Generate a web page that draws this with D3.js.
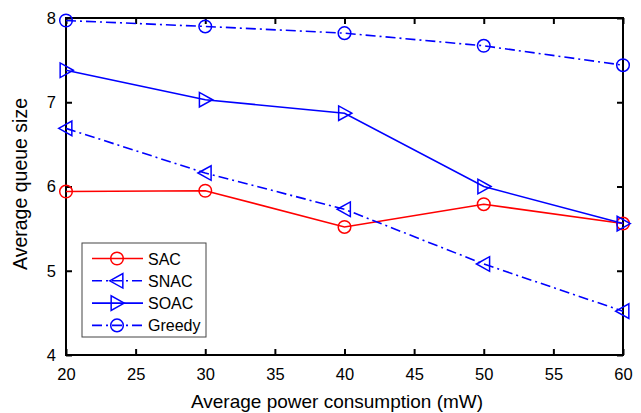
<!DOCTYPE html>
<html>
<head>
<meta charset="utf-8">
<script src="https://cdn.jsdelivr.net/npm/d3@7"></script>
<style>
  body { margin: 0; background: #fff; }
  text { font-family: "Liberation Sans", Arial, sans-serif; }
</style>
</head>
<body>
<div id="chart"></div>
<script>
// power consumption (mW)
var power = [20, 30, 40, 50, 60];
var sac = [5.94, 5.95, 5.52, 5.79, 5.56];
var snac = [6.69, 6.16, 5.73, 5.08, 4.52];
var soac = [7.38, 7.03, 6.87, 6.00, 5.56];
var greedy = [7.97, 7.90, 7.82, 7.67, 7.44];
var xTicks = [20, 25, 30, 35, 40, 45, 50, 55, 60];
var yTicks = [4, 5, 6, 7, 8];

var series = [
  {name: 'SAC', vals: sac, color: '#ff0000', dash: null, marker: 'circle'},
  {name: 'SNAC', vals: snac, color: '#0000ff', dash: '10,4,2,4', marker: 'left'},
  {name: 'SOAC', vals: soac, color: '#0000ff', dash: null, marker: 'right'},
  {name: 'Greedy', vals: greedy, color: '#0000ff', dash: '10,4,2,4', marker: 'circle'}
];

var W = 641, H = 413;
var m = {left: 66, right: 18, top: 18, bottom: 58};

var svg = d3.select('#chart').append('svg')
  .attr('width', W).attr('height', H);

var x = d3.scaleLinear().domain([20, 60]).range([m.left, W - m.right]);
var y = d3.scaleLinear().domain([4, 8]).range([H - m.bottom, m.top]);

// ticks pointing in, on all four sides
var tl = 6;
svg.append('g').attr('transform', `translate(0,${H - m.bottom})`)
  .call(d3.axisBottom(x).tickValues(xTicks).tickSize(-tl).tickPadding(13))
  .call(g => g.select('.domain').remove());
svg.append('g').attr('transform', `translate(0,${m.top})`)
  .call(d3.axisTop(x).tickValues(xTicks).tickSize(-tl).tickFormat(''))
  .call(g => g.select('.domain').remove());
svg.append('g').attr('transform', `translate(${m.left},0)`)
  .call(d3.axisLeft(y).tickValues(yTicks).tickSize(-tl).tickPadding(10).tickFormat(d3.format('d')))
  .call(g => g.select('.domain').remove());
svg.append('g').attr('transform', `translate(${W - m.right},0)`)
  .call(d3.axisRight(y).tickValues(yTicks).tickSize(-tl).tickFormat(''))
  .call(g => g.select('.domain').remove());

svg.selectAll('.tick line').attr('stroke', '#000').attr('stroke-width', 2);
svg.selectAll('.tick text').attr('font-size', 16.5).attr('fill', '#000')
  .style('font-family', '"Liberation Sans", Arial, sans-serif');

svg.append('rect')
  .attr('x', m.left).attr('y', m.top)
  .attr('width', W - m.left - m.right).attr('height', H - m.top - m.bottom)
  .attr('fill', 'none').attr('stroke', '#000').attr('stroke-width', 2);

function drawMarker(g, type, cx, cy, color) {
  if (type === 'circle') {
    g.append('circle').attr('cx', cx).attr('cy', cy).attr('r', 6.3)
      .attr('fill', 'none').attr('stroke', color).attr('stroke-width', 1.5);
  } else {
    var s = 7.3;
    var pts = type === 'left'
      ? [[cx - s, cy], [cx + s * 0.8, cy - s], [cx + s * 0.8, cy + s]]
      : [[cx + s, cy], [cx - s * 0.8, cy - s], [cx - s * 0.8, cy + s]];
    g.append('polygon').attr('points', pts.map(p => p.join(',')).join(' '))
      .attr('fill', 'none').attr('stroke', color).attr('stroke-width', 1.5);
  }
}

var line = d3.line().x((d, i) => x(power[i])).y(d => y(d));
var plot = svg.append('g');
series.forEach(function(s) {
  plot.append('path').attr('d', line(s.vals))
    .attr('fill', 'none').attr('stroke', s.color).attr('stroke-width', 1.6)
    .attr('stroke-dasharray', s.dash);
  s.vals.forEach((v, i) => drawMarker(plot, s.marker, x(power[i]), y(v), s.color));
});

// legend
var lg = svg.append('g').attr('transform', 'translate(82,243)');
lg.append('rect').attr('width', 124).attr('height', 94)
  .attr('fill', '#fff').attr('stroke', '#444').attr('stroke-width', 1);
series.forEach(function(s, i) {
  var cy = 15.5 + i * 22.3;
  lg.append('line').attr('x1', 10).attr('x2', 61).attr('y1', cy).attr('y2', cy)
    .attr('stroke', s.color).attr('stroke-width', 1.6).attr('stroke-dasharray', s.dash);
  drawMarker(lg, s.marker, 35, cy, s.color);
  lg.append('text').attr('x', 66).attr('y', cy + 6).attr('font-size', 16).text(s.name);
});

svg.append('text').attr('x', 337).attr('y', 408)
  .attr('text-anchor', 'middle').attr('font-size', 19).text('Average power consumption (mW)');
svg.append('text')
  .attr('transform', 'translate(27,184) rotate(-90)')
  .attr('text-anchor', 'middle').attr('font-size', 19.5).text('Average queue size');
</script>
</body>
</html>
